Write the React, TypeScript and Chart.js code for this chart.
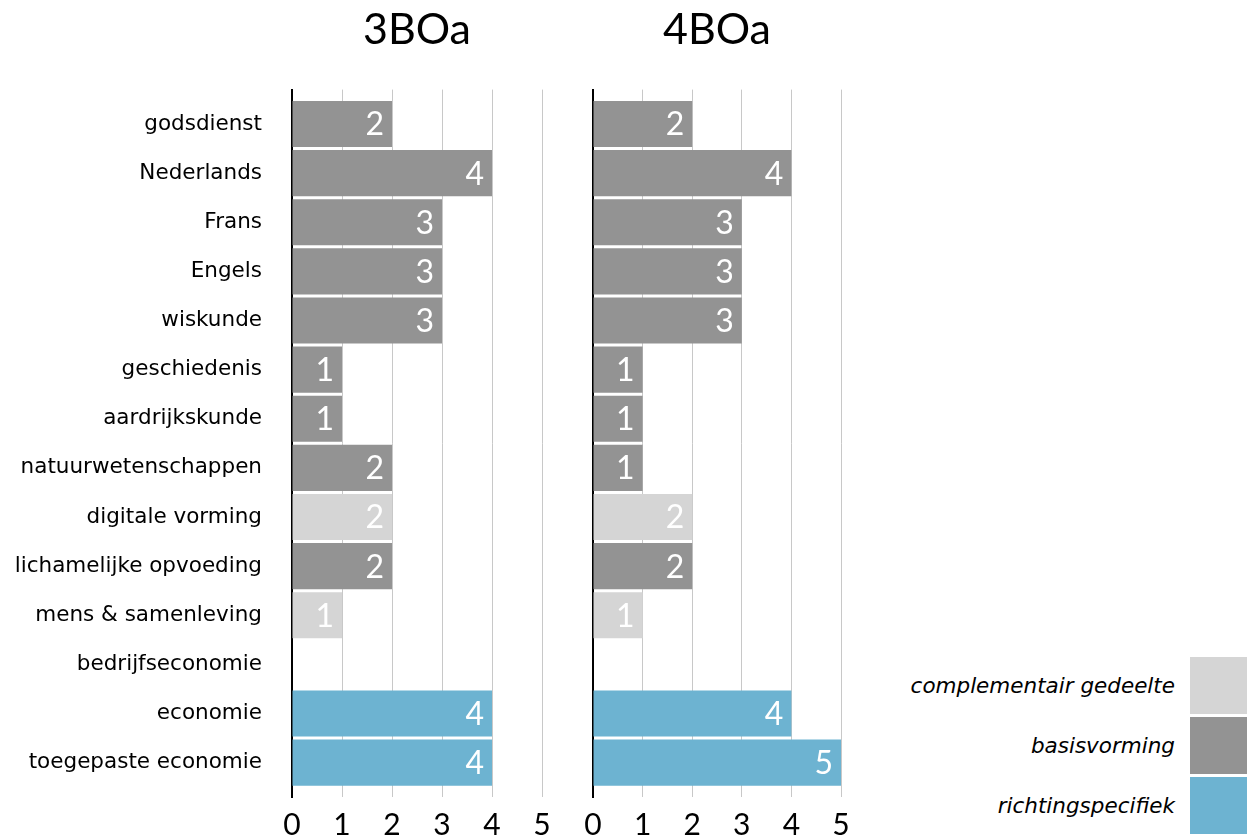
import React, { useEffect, useRef } from "react";
import { Chart, registerables } from "chart.js";

Chart.register(...registerables);

const FONT = "Lato, 'Noto Sans', sans-serif";
const LABEL_FONT = "'DejaVu Sans', sans-serif";

const categories = [
  "godsdienst",
  "Nederlands",
  "Frans",
  "Engels",
  "wiskunde",
  "geschiedenis",
  "aardrijkskunde",
  "natuurwetenschappen",
  "digitale vorming",
  "lichamelijke opvoeding",
  "mens & samenleving",
  "bedrijfseconomie",
  "economie",
  "toegepaste economie",
];

// group of each category: 0 = complementair, 1 = basisvorming, 2 = richtingspecifiek
const categoryGroups = [1, 1, 1, 1, 1, 1, 1, 1, 0, 1, 0, 2, 2, 2];

const values3BOa: (number | null)[] = [2, 4, 3, 3, 3, 1, 1, 2, 2, 2, 1, null, 4, 4];
const values4BOa: (number | null)[] = [2, 4, 3, 3, 3, 1, 1, 1, 2, 2, 1, null, 4, 5];

const legendLabels = ["complementair gedeelte", "basisvorming", "richtingspecifiek"];
const groupColors = ["#d5d5d5", "#939393", "#6db3d1"];

const xTicks = [0, 1, 2, 3, 4, 5];

const valueLabelPlugin = {
  id: "valueLabels",
  afterDatasetsDraw(chart: any) {
    const ctx = chart.ctx;
    const meta = chart.getDatasetMeta(0);
    const data = chart.data.datasets[0].data as any[];
    ctx.save();
    ctx.fillStyle = "#ffffff";
    ctx.font = `32px ${FONT}`;
    ctx.textAlign = "right";
    ctx.textBaseline = "alphabetic";
    meta.data.forEach((bar: any, i: number) => {
      const d = data[i];
      if (!d || d.x == null) return;
      ctx.fillText(String(d.x), bar.x - 8, bar.y + 11.5);
    });
    ctx.restore();
  },
};

function BarPanel(props: {
  title: string;
  values: (number | null)[];
  showLabels: boolean;
  left: number;
  width: number;
  axisLeft: number;
  axisRight: number;
}) {
  const ref = useRef<HTMLCanvasElement | null>(null);
  useEffect(() => {
    if (!ref.current) return;
    const points = props.values
      .map((v, i) => ({ x: v, y: i }))
      .filter((p) => p.x != null);
    const colors = points.map((p) => groupColors[categoryGroups[p.y]]);
    const yWidth = props.axisLeft - props.left;
    const padRight = props.left + props.width - props.axisRight;
    const chart = new Chart(ref.current, {
      type: "bar",
      data: {
        datasets: [
          {
            data: points as any,
            backgroundColor: colors,
            borderWidth: 0,
            barPercentage: 0.94,
            categoryPercentage: 1,
          },
        ],
      },
      options: {
        indexAxis: "y",
        responsive: false,
        animation: false,
        layout: { padding: { top: 0, right: padRight, bottom: 0, left: 0 } },
        plugins: {
          legend: { display: false },
          tooltip: { enabled: false },
          title: {
            display: true,
            text: props.title,
            color: "#000",
            fullSize: false,
            font: { family: FONT, size: 43, weight: "normal" },
            padding: { top: 4, bottom: 34 },
          },
        },
        scales: {
          x: {
            type: "linear",
            min: 0,
            max: 5,
            afterBuildTicks: (s: any) => {
              s.ticks = xTicks.map((v) => ({ value: v }));
            },
            ticks: {
              color: "#000",
              font: { family: FONT, size: 30 },
              padding: 10,
              maxRotation: 0,
            },
            grid: {
              color: (c: any) => (c.tick && c.tick.value === 0 ? "rgba(0,0,0,0)" : "#c8c8c8"),
              lineWidth: 1,
              drawTicks: false,
            },
            border: { display: false },
            afterFit: (s: any) => {
              s.height = 39;
              s.paddingLeft = 0;
              s.paddingRight = 0;
            },
          },
          y: {
            type: "linear",
            min: -0.7,
            max: 13.7,
            reverse: true,
            offset: false,
            afterBuildTicks: (s: any) => {
              s.ticks = categories.map((_, i) => ({ value: i }));
            },
            ticks: {
              display: props.showLabels,
              color: "#000",
              font: { family: LABEL_FONT, size: 21.5 },
              padding: 30,
              callback: (v: any) => categories[v as number],
            },
            grid: { display: false, drawTicks: false },
            border: { display: true, color: "#000", width: 2 },
            afterFit: (s: any) => {
              s.width = yWidth;
              s.paddingTop = 0;
              s.paddingBottom = 0;
            },
          },
        },
      },
      plugins: [valueLabelPlugin],
    } as any);
    return () => chart.destroy();
  }, []);
  return (
    <canvas
      ref={ref}
      width={props.width}
      height={836}
      style={{ position: "absolute", left: props.left, top: 0, display: "block" }}
    />
  );
}

export default function App() {
  const legendTops = [657, 717, 777];
  return (
    <div
      style={{
        position: "absolute",
        left: 0,
        top: 0,
        width: 1247,
        height: 836,
        background: "#fff",
        overflow: "hidden",
      }}
    >
      <BarPanel title="3BOa" values={values3BOa} showLabels={true} left={0} width={560} axisLeft={292} axisRight={542} />
      <BarPanel title="4BOa" values={values4BOa} showLabels={false} left={570} width={290} axisLeft={593} axisRight={841} />
      {legendLabels.map((label, i) => (
        <React.Fragment key={label}>
          <div
            style={{
              position: "absolute",
              left: 1190,
              top: legendTops[i],
              width: 57,
              height: 57,
              background: groupColors[i],
            }}
          />
          <div
            style={{
              position: "absolute",
              right: 1247 - 1175,
              top: legendTops[i],
              height: 57,
              lineHeight: "57px",
              fontFamily: LABEL_FONT,
              fontStyle: "italic",
              fontSize: 21.5,
              color: "#000",
              whiteSpace: "nowrap",
              textAlign: "right",
            }}
          >
            {label}
          </div>
        </React.Fragment>
      ))}
    </div>
  );
}
